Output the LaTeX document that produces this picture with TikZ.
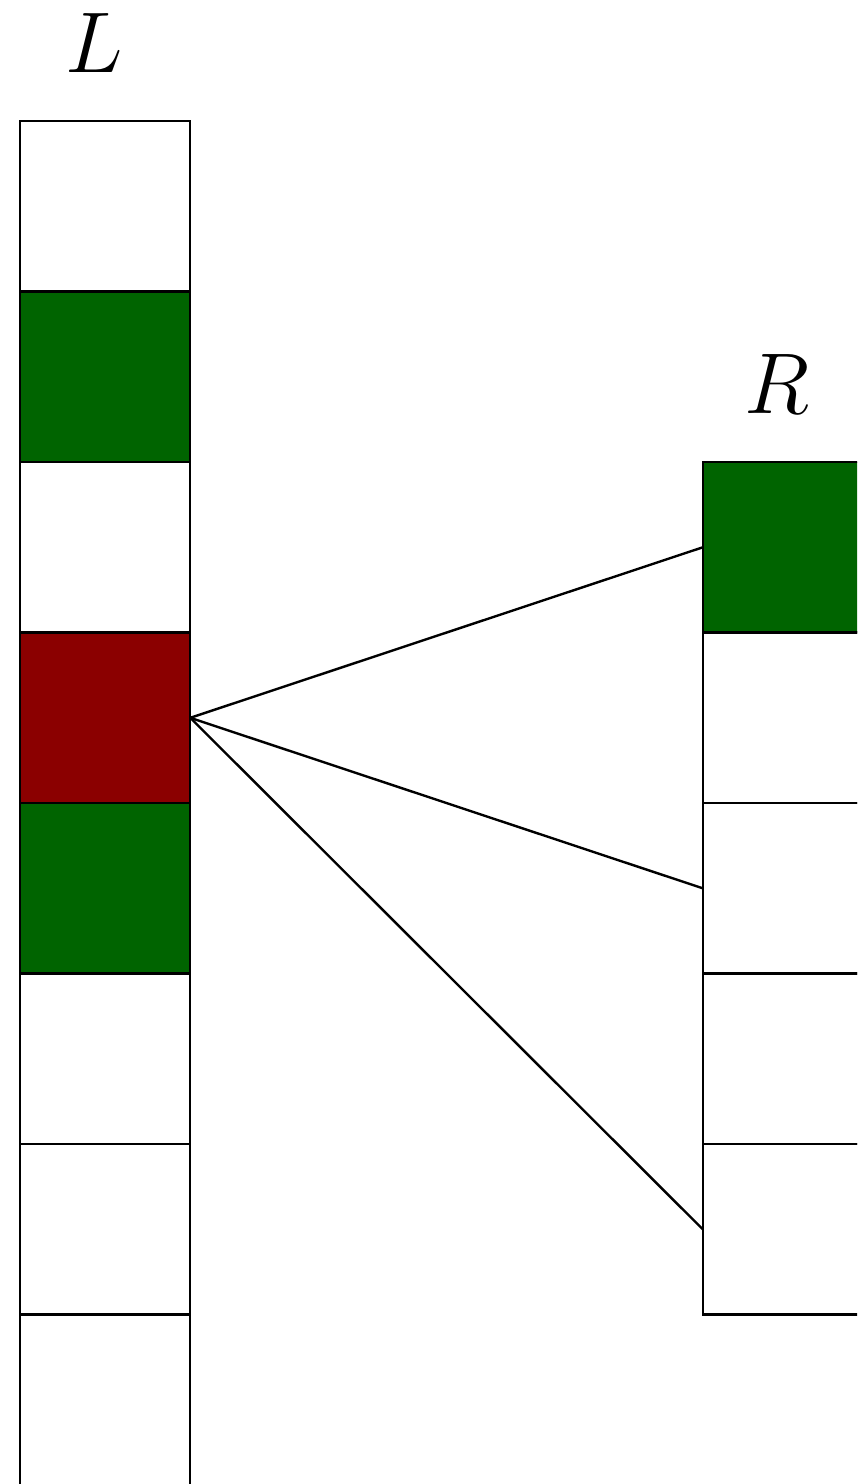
\documentclass[tikz,border=0pt]{standalone}
\definecolor{cellgreen}{RGB}{0,100,0}
\definecolor{cellred}{RGB}{139,0,0}
\usetikzlibrary{positioning}

\begin{document}
\begin{tikzpicture}[
    node distance=0cm,
    cell/.style={rectangle, minimum width=1cm, minimum height=1cm, draw=black, fill=white, inner sep=0pt, outer sep=0pt},
    hit/.style={cell, fill=cellgreen},
    probe/.style={cell, fill=cellred},
    colname/.style={font=\Large, xshift=-0.065cm}
]
\clip (0,0) rectangle (5.027,-8.704);

% Left column
\node (l1) [cell] at (0.616,-1.21) {};
\node (l2) [hit, below=of l1] {};
\node (l3) [cell, below=of l2] {};
\node (l4) [probe, below=of l3] {};
\node (l5) [hit, below=of l4] {};
\node (l6) [cell, below=of l5] {};
\node (l7) [cell, below=of l6] {};
\node (l8) [cell, below=of l7] {};
\node (lname) [colname, above=0.16cm of l1] {$L$};

% Right column
\node (r1) [hit] at (4.622,-3.21) {};
\node (r2) [cell, below=of r1] {};
\node (r3) [cell, below=of r2] {};
\node (r4) [cell, below=of r3] {};
\node (r5) [cell, below=of r4] {};
\node (rname) [colname, above=0.16cm of r1] {$R$};

% Lines
\draw (l4.east) -- (r1.west);
\draw (l4.east) -- (r3.west);
\draw (l4.east) -- (r5.west);

\end{tikzpicture}
\end{document}
